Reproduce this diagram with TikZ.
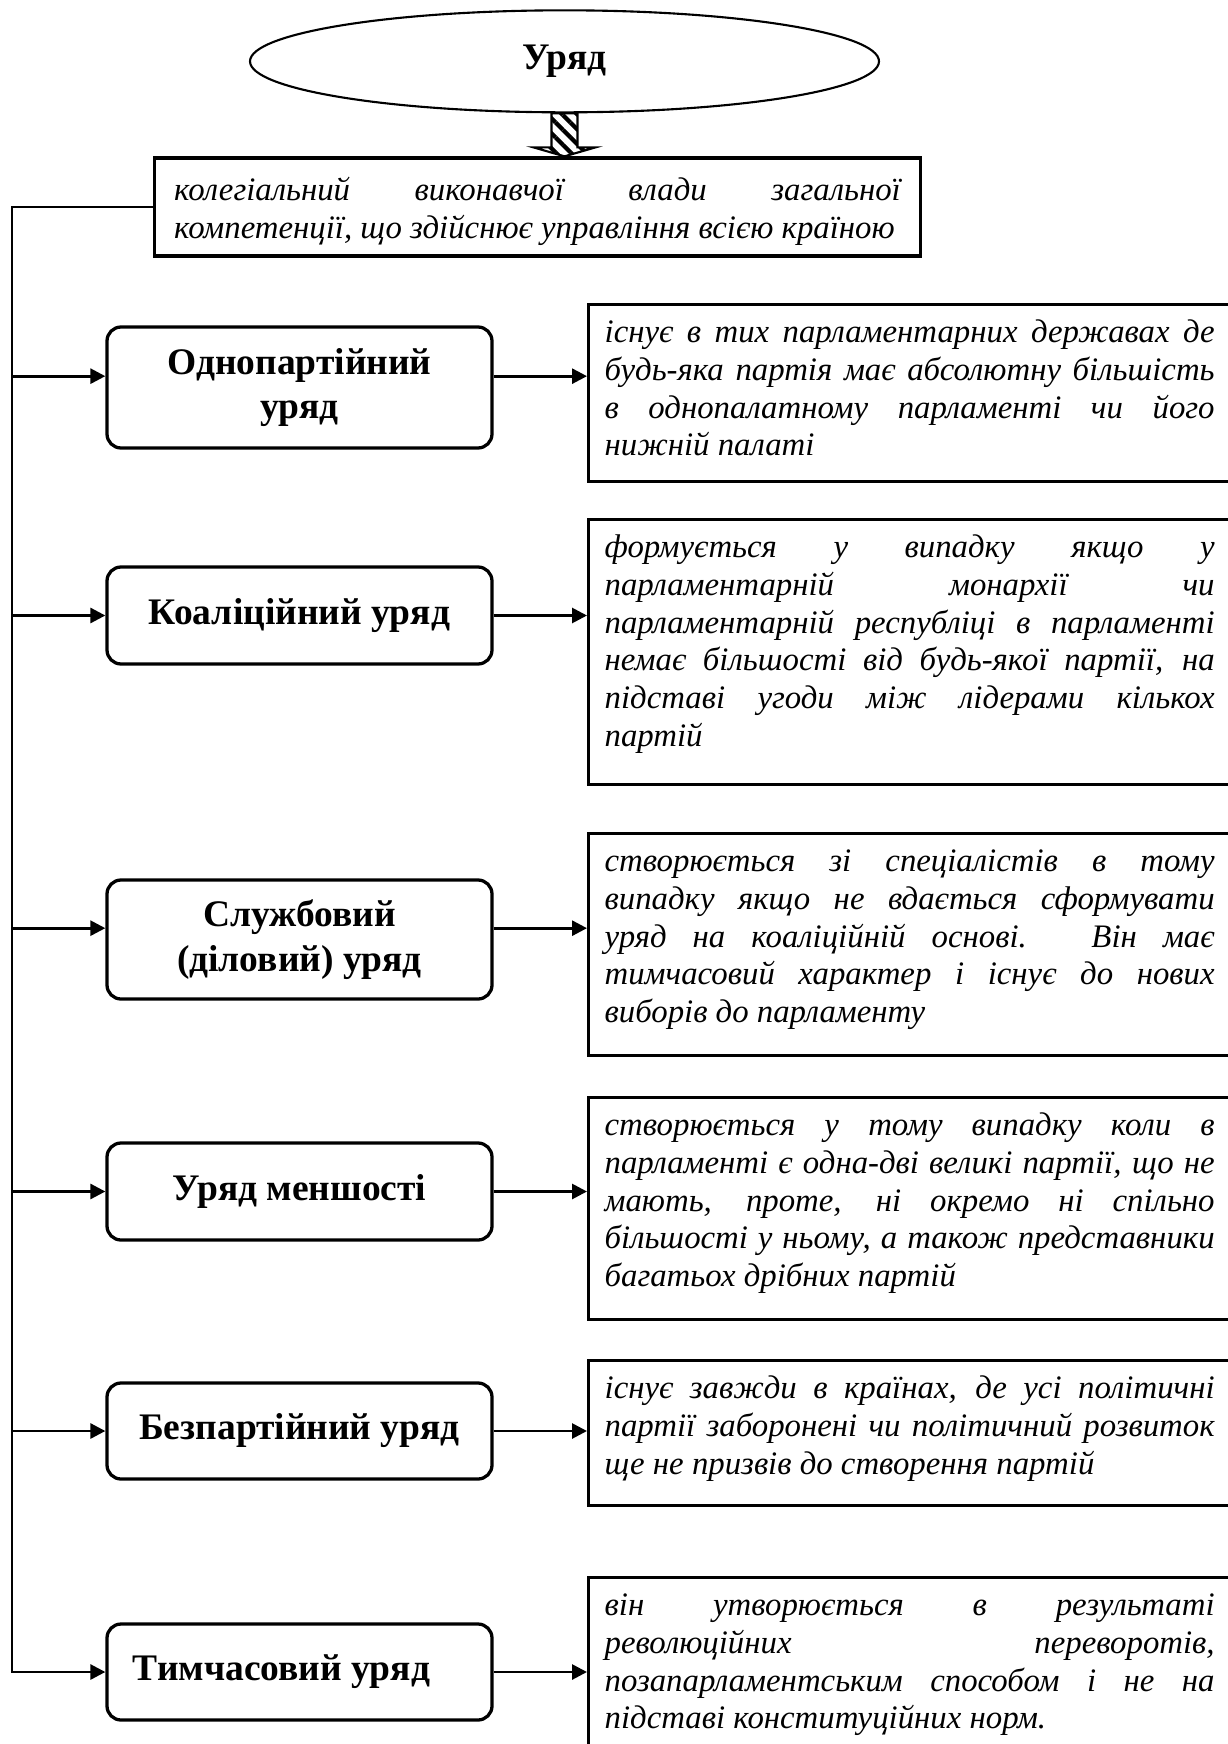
\documentclass[tikz,border=0pt]{standalone}
\usepackage{fontspec}
\setmainfont{Liberation Serif}
\usetikzlibrary{shapes.geometric,arrows.meta,patterns.meta}
\hyphenpenalty=10000
\exhyphenpenalty=10000
\tolerance=10000

\tikzset{
  titlebox/.style={draw, line width=1.4pt, rounded corners=6pt, minimum width=5.775cm, align=center, font=\fontsize{16}{19}\selectfont\bfseries},
  descbox/.style={draw, line width=1.4pt, anchor=north west, text width=9.15cm, align=justify, inner xsep=0.24cm, inner ysep=0pt, text height=0.57cm, font=\fontsize{14}{16.1}\selectfont\itshape},
  arr/.style={line width=1.2pt, -{Triangle[length=6.4pt,width=6.4pt]}}
}

\begin{document}
\begin{tikzpicture}
        \useasboundingbox (0,0) rectangle (18.405,-26.16);

        % Government
        \node[draw, ellipse, line width=0.9pt, minimum width=9.435cm, minimum height=1.53cm, font=\fontsize{16}{18}\selectfont\bfseries] (urad) at (8.4675,-0.92) {Уряд};

        % Definition
        \node[draw, line width=1.4pt, text width=10.9cm, inner xsep=0.3cm, minimum height=1.47cm, text height=14pt, align=justify, font=\fontsize{14}{16.1}\selectfont\itshape] (def) at (8.0625,-3.105) {колегіальний виконавчої влади загальної\linebreak компетенції, що здійснює управління всією країною};

        % Striped arrow
        \coordinate (hl) at ([xshift=-0.465cm,yshift=-0.51cm]urad.south);
        \coordinate (hr) at ([xshift=0.465cm,yshift=-0.51cm]urad.south);
        \draw[line width=0.9pt, pattern={Lines[angle=-45,distance=4.5pt,line width=1.8pt]}] ([xshift=-0.195cm]urad.south) -- ([xshift=-0.195cm,yshift=-0.51cm]urad.south) -- (hl) -- (urad.south |- def.north) -- (hr) -- ([xshift=0.195cm,yshift=-0.51cm]urad.south) -- ([xshift=0.195cm]urad.south) -- cycle;

        % Kinds of government
        \node[titlebox, minimum height=1.815cm] (b1) at (4.4925,-5.8125) {Однопартійний\\уряд};
        \node[titlebox, minimum height=1.455cm] (b2) at (4.4925,-9.2325) {Коаліційний уряд};
        \node[titlebox, minimum height=1.785cm] (b3) at (4.4925,-14.0925) {Службовий\\(діловий) уряд};
        \node[titlebox, minimum height=1.455cm] (b4) at (4.4925,-17.8725) {Уряд меншості};
        \node[titlebox, minimum height=1.44cm] (b5) at (4.4925,-21.465) {Безпартійний уряд};
        \node[titlebox, minimum height=1.44cm] (b6) at (4.4925,-25.08) {Тимчасовий уряд\hspace*{0.54cm}};

        % Descriptions
        \node[descbox, text depth=2.085cm] (r1) at (8.805,-4.545) {існує в тих парламентарних державах де\linebreak будь-яка партія має абсолютну більшість\linebreak в однопалатному парламенті чи його\linebreak нижній палаті};
        \node[descbox, text depth=3.405cm] (r2) at (8.805,-7.77) {формується у випадку якщо у\linebreak парламентарній монархії чи\linebreak парламентарній республіці в парламенті\linebreak немає більшості від будь-якої партії, на\linebreak підставі угоди між лідерами кількох\linebreak партій};
        \node[descbox, text depth=2.76cm] (r3) at (8.805,-12.48) {створюється зі спеціалістів в тому\linebreak випадку якщо не вдається сформувати\linebreak уряд на коаліційній основі. Він має\linebreak тимчасовий характер і існує до нових\linebreak виборів до парламенту};
        \node[descbox, text depth=2.76cm] (r4) at (8.805,-16.44) {створюється у тому випадку коли в\linebreak парламенті є одна-дві великі партії, що не\linebreak мають, проте, ні окремо ні спільно\linebreak більшості у ньому, а також представники\linebreak багатьох дрібних партій};
        \node[descbox, text depth=1.605cm] (r5) at (8.805,-20.385) {існує завжди в країнах, де усі політичні\linebreak партії заборонені чи політичний розвиток\linebreak ще не призвів до створення партій};
        \node[descbox, text depth=2.93cm] (r6) at (8.805,-23.64) {він утворюється в результаті\linebreak революційних переворотів,\linebreak позапарламентським способом і не на\linebreak підставі конституційних норм.};

        % Left spine
        \coordinate (spine) at (0.18,-3.105);
        \coordinate (a1) at ([yshift=0.17cm]b1.west);
        \coordinate (a3) at ([yshift=0.17cm]b3.west);
        \draw[arr] (def.west) -- (spine) -- (spine |- b6.west) -- (b6.west);
        \draw[arr] (spine |- a1) -- (a1);
        \draw[arr] (spine |- b2.west) -- (b2.west);
        \draw[arr] (spine |- a3) -- (a3);
        \draw[arr] (spine |- b4.west) -- (b4.west);
        \draw[arr] (spine |- b5.west) -- (b5.west);

        % Arrows to descriptions
        \draw[arr] (a1 -| b1.east) -- (a1 -| r1.west);
        \draw[arr] (b2.east) -- (b2.east -| r2.west);
        \draw[arr] (a3 -| b3.east) -- (a3 -| r3.west);
        \draw[arr] (b4.east) -- (b4.east -| r4.west);
        \draw[arr] (b5.east) -- (b5.east -| r5.west);
        \draw[arr] (b6.east) -- (b6.east -| r6.west);
    \end{tikzpicture}
\end{document}
